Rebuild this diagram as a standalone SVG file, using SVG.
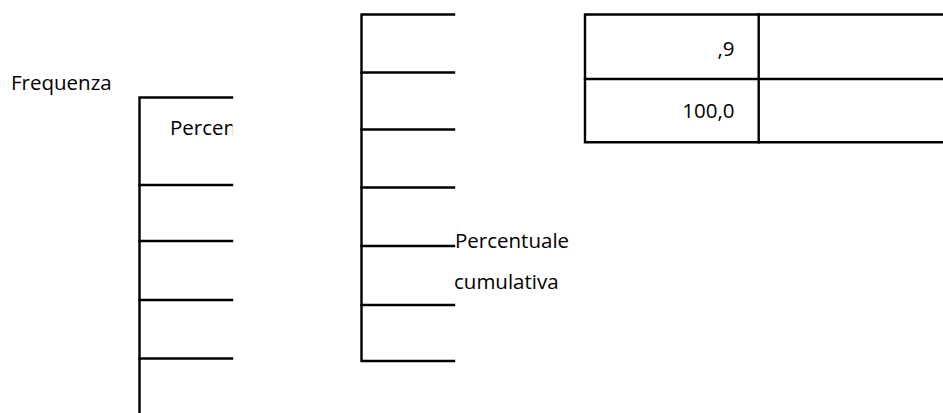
<svg xmlns="http://www.w3.org/2000/svg" width="943" height="413" viewBox="0 0 943 413">
<style>
.ln{stroke:#000;stroke-width:2.4;fill:none;stroke-linecap:square}
.t{font-family:"Open Sans","Liberation Sans",sans-serif;font-size:20.5px;fill:#000}
.r{text-anchor:end}
</style>
<defs>
<clipPath id="clipL"><rect x="140" y="97" width="92.5" height="316"/></clipPath>
</defs>
<rect width="943" height="413" fill="#fff"/>
<g id="label-frequenza">
<text class="t" x="11" y="90">Frequenza</text>
</g>
<g id="col-left">
<path class="ln" d="M139.5,413 V97.5 H232"/>
<path class="ln" d="M139.5,185 H232 M139.5,241 H232 M139.5,300 H232 M139.5,358.5 H232"/>
<text class="t" x="170" y="135" clip-path="url(#clipL)">Percen</text>
</g>
<g id="col-mid">
<path class="ln" d="M454,14.5 H361.5 V361 H454"/>
<path class="ln" d="M361.5,72.5 H454 M361.5,129.5 H454 M361.5,187.5 H454 M361.5,246 H454 M361.5,305 H454"/>
<text class="t" x="455" y="247.5">Percentuale</text>
<text class="t" x="454" y="288.5">cumulativa</text>
</g>
<g id="table-right">
<path class="ln" d="M943,14.5 H585 V142.3 H943"/>
<path class="ln" d="M585,79 H943 M758.7,14.5 V142.3"/>
<text class="t r" x="734.5" y="56">,9</text>
<text class="t r" x="734.5" y="117.5">100,0</text>
</g>
<g id="connectors"></g>
</svg>
